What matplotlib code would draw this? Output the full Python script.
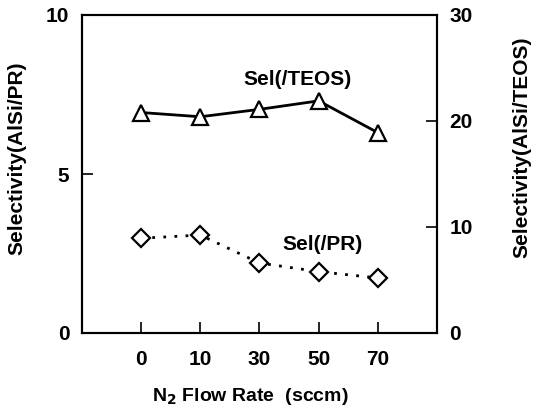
import numpy as np
import matplotlib.pyplot as plt

plt.rcParams['font.family'] = ['Liberation Sans', 'DejaVu Sans']
plt.rcParams['font.weight'] = 'bold'
plt.rcParams['axes.labelweight'] = 'bold'
plt.rcParams['mathtext.default'] = 'bf'

flow_labels = ['0', '10', '30', '50', '70']
sel_teos = [20.8, 20.4, 21.1, 21.9, 18.9]   # right axis
sel_pr = [2.98, 3.08, 2.2, 1.93, 1.73]      # left axis

x = np.arange(len(flow_labels))

fig = plt.figure(figsize=(5.34, 4.16), dpi=100)
ax = fig.add_axes([82/534, 1 - 333/416, 355/534, 318/416])
ax2 = ax.twinx()

ax.plot(x, sel_pr, linestyle=(0, (1, 3)), color='black', lw=2,
        marker='D', ms=9, mfc='white', mec='black', mew=1.6, zorder=3)
ax2.plot(x, sel_teos, linestyle='-', color='black', lw=2,
         marker='^', ms=11, mfc='white', mec='black', mew=1.6, zorder=3)

ax.set_xlim(-1, 5)
ax.set_ylim(0, 10)
ax2.set_ylim(0, 30)
ax.set_xticks(x)
ax.set_xticklabels(flow_labels)
ax.set_yticks([0, 5, 10])
ax2.set_yticks([0, 10, 20, 30])

for a in (ax, ax2):
    a.tick_params(direction='in', length=8, width=1.2, labelsize=15, pad=9)
    for s in a.spines.values():
        s.set_linewidth(1.5)
ax.tick_params(axis='x', pad=12)
ax.tick_params(axis='y', right=False)

ax.set_xlabel('N$_2$ Flow Rate  (sccm)', fontsize=14, va='center')
ax.set_ylabel('Selectivity(AlSi/PR)', fontsize=15, va='center')
ax2.set_ylabel('Selectivity(AlSi/TEOS)', fontsize=15, va='center')
ax.xaxis.set_label_coords(0.473, -0.20)
ax.yaxis.set_label_coords(-0.183, 0.55)
ax2.yaxis.set_label_coords(1.239, 0.585)

ax.text(2.65, 7.96, 'Sel(/TEOS)', fontsize=15, ha='center', va='center')
ax.text(3.07, 2.77, 'Sel(/PR)', fontsize=15, ha='center', va='center')

fig.savefig('out.png', dpi=100)
